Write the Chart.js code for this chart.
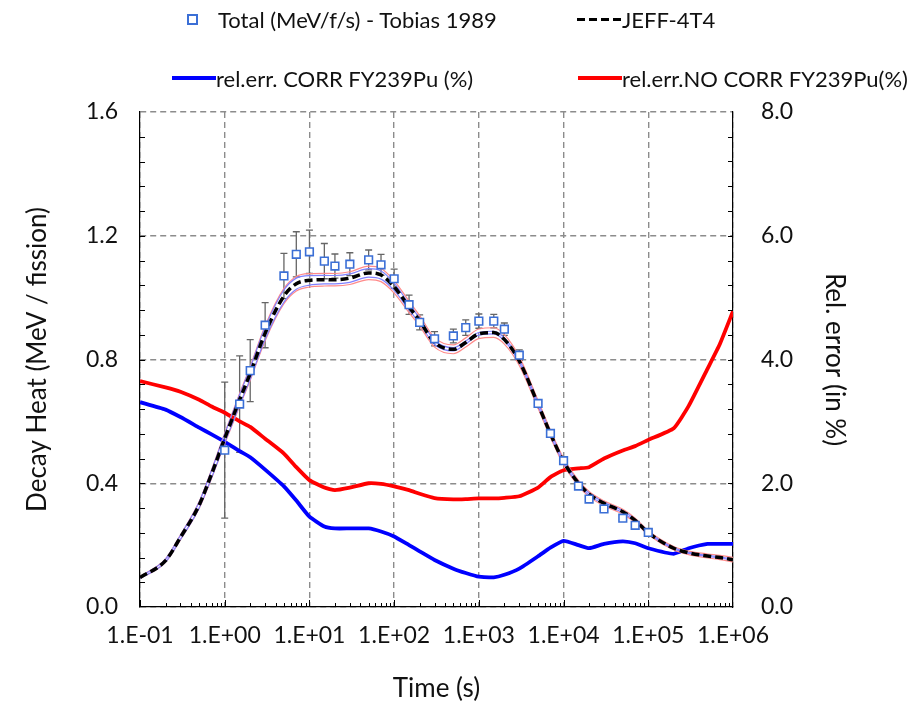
<!DOCTYPE html>
<html>
<head>
<meta charset="utf-8">
<script src="https://cdn.jsdelivr.net/npm/chart.js@4.4.1/dist/chart.umd.min.js"></script>
<style>
  body { margin: 0; background: #fff; font-family: Lato, "Open Sans", sans-serif; }
  #wrap { position: relative; width: 920px; height: 701px; }
  #decay { position: absolute; left: 0; top: 0; }
  .leg { position: absolute; height: 28px; display: flex; align-items: center; font-size: 22px; color: #111; white-space: nowrap; }
  .sq { width: 7px; height: 7px; border: 2px solid #3b6fd6; background: #fff; margin-right: 20px; }
  .dsh { width: 44px; height: 3px; margin-right: 1px; background: repeating-linear-gradient(90deg, #000 0 8px, transparent 8px 12px); }
  .ln { width: 44px; height: 4px; }
</style>
</head>
<body>
<div id="wrap">
  <canvas id="decay" width="920" height="701"></canvas>
  <div class="leg" style="left:187px;top:5px"><span class="sq"></span>Total (MeV/f/s) - Tobias 1989</div>
  <div class="leg" style="left:577px;top:5px"><span class="dsh"></span>JEFF-4T4</div>
  <div class="leg" style="left:172px;top:64px"><span class="ln" style="background:#0000ff"></span>rel.err. CORR FY239Pu (%)</div>
  <div class="leg" style="left:578px;top:64px"><span class="ln" style="background:#ff0000"></span>rel.err.NO CORR FY239Pu(%)</div>
</div>
<script>
// Tobias 1989 measured total decay heat (MeV/fission) and its uncertainty
const tobiasTime = [1, 1.5, 2, 3, 5, 7, 10, 15, 20, 30, 50, 70, 100, 150, 200, 300, 500, 700,
  1000, 1500, 2000, 3000, 5000, 7000, 10000, 15000, 20000, 30000, 50000, 70000, 100000];
const tobiasHeat = [0.507, 0.656, 0.764, 0.911, 1.070, 1.140, 1.148, 1.118, 1.102, 1.108, 1.122, 1.106,
  1.061, 0.977, 0.920, 0.867, 0.876, 0.903, 0.924, 0.924, 0.898, 0.814, 0.658, 0.561,
  0.473, 0.391, 0.349, 0.317, 0.287, 0.264, 0.241];
const tobiasErr = [0.220, 0.156, 0.100, 0.073, 0.073, 0.073, 0.070, 0.057, 0.039, 0.037, 0.032, 0.034,
  0.031, 0.031, 0.024, 0.023, 0.022, 0.025, 0.023, 0.022, 0.020, 0.017, 0.008, 0.006,
  0.005, 0.004, 0.004, 0.003, 0.003, 0.003, 0.003];

// JEFF-4T4 calculation and relative errors (%) on a common time grid
const calcTime = [0.1, 0.2, 0.3, 0.5, 0.7, 1, 1.5, 2, 3, 5, 7, 10, 15, 20, 30, 50, 70,
  100, 150, 200, 300, 500, 700, 1000, 1500, 2000, 3000, 5000, 7000,
  10000, 15000, 20000, 30000, 50000, 70000, 100000, 200000, 300000, 500000, 700000, 1000000];
const jeffHeat = [0.095, 0.150, 0.225, 0.330, 0.430, 0.545, 0.670, 0.755, 0.885, 1.005, 1.045,
  1.056, 1.058, 1.058, 1.063, 1.080, 1.073, 1.035, 0.970, 0.925, 0.855, 0.833, 0.855,
  0.883, 0.887, 0.865, 0.795, 0.655, 0.560, 0.470, 0.400, 0.365, 0.335, 0.308, 0.280,
  0.240, 0.190, 0.175, 0.165, 0.160, 0.153];
const errCorr = [3.31, 3.19, 3.07, 2.90, 2.79, 2.67, 2.52, 2.42, 2.22, 1.95, 1.72,
  1.46, 1.30, 1.27, 1.27, 1.27, 1.22, 1.14, 1.00, 0.90, 0.76, 0.62, 0.55,
  0.49, 0.48, 0.52, 0.62, 0.82, 0.96, 1.07, 1.00, 0.95, 1.02, 1.06, 1.03,
  0.95, 0.86, 0.95, 1.02, 1.02, 1.02];
const errNoCorr = [3.65, 3.55, 3.48, 3.35, 3.24, 3.14, 3.00, 2.91, 2.72, 2.48, 2.26,
  2.05, 1.93, 1.89, 1.93, 2.00, 1.99, 1.95, 1.89, 1.83, 1.76, 1.74, 1.745,
  1.755, 1.755, 1.765, 1.79, 1.93, 2.10, 2.21, 2.24, 2.26, 2.40, 2.53, 2.60,
  2.70, 2.89, 3.25, 3.85, 4.25, 4.78];

const decades = [0.1, 1, 10, 100, 1e3, 1e4, 1e5, 1e6];

const pts = (xs, ys) => xs.map((x, i) => ({ x: x, y: ys[i] }));
// uncertainty band around the calculation from the relative error
const band = (err, sign) => calcTime.map((x, i) => ({ x: x, y: jeffHeat[i] * (1 + sign * err[i] / 100) }));

function expLabel(v) {
  const e = Math.round(Math.log10(v));
  return '1.E' + (e < 0 ? '-' : '+') + String(Math.abs(e)).padStart(2, '0');
}

const tickFont = { family: 'Lato', size: 23 };
const titleFont = { family: 'Lato', size: 26 };

// vertical error bars on the measured points
const errorBars = {
  id: 'errorBars',
  beforeDatasetsDraw(chart) {
    const { ctx, scales: { x, y } } = chart;
    ctx.save();
    ctx.strokeStyle = '#666';
    ctx.lineWidth = 1.3;
    tobiasTime.forEach((t, i) => {
      const px = x.getPixelForValue(t);
      const top = y.getPixelForValue(tobiasHeat[i] + tobiasErr[i]);
      const bot = y.getPixelForValue(tobiasHeat[i] - tobiasErr[i]);
      ctx.beginPath();
      ctx.moveTo(px, top); ctx.lineTo(px, bot);
      ctx.moveTo(px - 3.5, top); ctx.lineTo(px + 3.5, top);
      ctx.moveTo(px - 3.5, bot); ctx.lineTo(px + 3.5, bot);
      ctx.stroke();
    });
    ctx.restore();
  }
};

// small inward tick marks on all three axes
const innerTicks = {
  id: 'innerTicks',
  afterDraw(chart) {
    const { ctx, chartArea: a, scales: { x, y, y2 } } = chart;
    ctx.save();
    ctx.strokeStyle = '#000';
    ctx.lineWidth = 1;
    ctx.beginPath();
    for (let d = 0.1; d < 1e6; d *= 10) {
      for (let m = 1; m <= 9; m++) {
        const px = Math.round(x.getPixelForValue(d * m)) + 0.5;
        const len = m === 1 ? 7 : 4;
        ctx.moveTo(px, a.bottom); ctx.lineTo(px, a.bottom - len);
      }
    }
    for (let v = 0.08; v < 1.6; v += 0.08) {
      const py = Math.round(y.getPixelForValue(v)) + 0.5;
      ctx.moveTo(a.left, py); ctx.lineTo(a.left + 5, py);
    }
    for (let v = 0.4; v < 8; v += 0.4) {
      const py = Math.round(y2.getPixelForValue(v)) + 0.5;
      ctx.moveTo(a.right, py); ctx.lineTo(a.right - 5, py);
    }
    ctx.stroke();
    ctx.restore();
  }
};

const ctx = document.getElementById('decay').getContext('2d');
new Chart(ctx, {
  type: 'line',
  data: {
    datasets: [
      {
        label: 'Total (MeV/f/s) - Tobias 1989',
        data: pts(tobiasTime, tobiasHeat),
        showLine: false,
        pointStyle: 'rect',
        pointRadius: 5.4,
        pointBorderWidth: 1.6,
        pointBorderColor: '#3b6fd6',
        pointBackgroundColor: '#fff',
        yAxisID: 'y'
      },
      {
        label: 'JEFF-4T4',
        data: pts(calcTime, jeffHeat),
        borderColor: '#000',
        borderWidth: 3.5,
        borderDash: [8, 4],
        cubicInterpolationMode: 'monotone',
        pointRadius: 0,
        yAxisID: 'y'
      },
      { data: band(errCorr, 1), borderColor: '#8080ff', borderWidth: 1.2, cubicInterpolationMode: 'monotone', pointRadius: 0, yAxisID: 'y' },
      { data: band(errCorr, -1), borderColor: '#8080ff', borderWidth: 1.2, cubicInterpolationMode: 'monotone', pointRadius: 0, yAxisID: 'y' },
      { data: band(errNoCorr, 1), borderColor: '#ff8a8a', borderWidth: 1.2, cubicInterpolationMode: 'monotone', pointRadius: 0, yAxisID: 'y' },
      { data: band(errNoCorr, -1), borderColor: '#ff8a8a', borderWidth: 1.2, cubicInterpolationMode: 'monotone', pointRadius: 0, yAxisID: 'y' },
      {
        label: 'rel.err. CORR FY239Pu (%)',
        data: pts(calcTime, errCorr),
        borderColor: '#0000ff',
        borderWidth: 3.8,
        tension: 0.15,
        pointRadius: 0,
        yAxisID: 'y2'
      },
      {
        label: 'rel.err.NO CORR FY239Pu(%)',
        data: pts(calcTime, errNoCorr),
        borderColor: '#ff0000',
        borderWidth: 3.8,
        tension: 0.15,
        pointRadius: 0,
        yAxisID: 'y2'
      }
    ]
  },
  options: {
    responsive: false,
    animation: false,
    layout: { padding: { top: 112, left: 0, right: 0, bottom: 0 } },
    plugins: { legend: { display: false }, tooltip: { enabled: false } },
    scales: {
      x: {
        type: 'logarithmic',
        min: 0.1,
        max: 1e6,
        afterBuildTicks: s => { s.ticks = decades.map(v => ({ value: v })); },
        afterFit: s => { s.height = 94; },
        ticks: { callback: v => expLabel(v), font: tickFont, color: '#111', padding: 15, maxRotation: 0, autoSkip: false },
        grid: { color: '#8c8c8c', lineWidth: 1.4, drawTicks: false },
        border: { display: true, color: '#000', width: 1.2, dash: [6, 4] },
        title: { display: true, text: 'Time (s)', font: titleFont, color: '#111', padding: { top: 0, bottom: -3 } }
      },
      y: {
        position: 'left',
        min: 0,
        max: 1.6,
        afterFit: s => { s.width = 140; },
        ticks: { stepSize: 0.4, callback: v => v.toFixed(1), font: tickFont, color: '#111', padding: 22 },
        grid: { color: '#8c8c8c', lineWidth: 1.4, drawTicks: false },
        border: { display: true, color: '#000', width: 1.2, dash: [6, 4] },
        title: { display: true, text: 'Decay Heat (MeV / fission)', font: titleFont, color: '#111', padding: { top: 22, bottom: 0 } }
      },
      y2: {
        position: 'right',
        min: 0,
        max: 8,
        afterFit: s => { s.width = 187; },
        ticks: { stepSize: 2, callback: v => v.toFixed(1), font: tickFont, color: '#111', padding: 28 },
        grid: { display: false, drawTicks: false },
        border: { display: true, color: '#000', width: 1.2 },
        title: { display: true, text: 'Rel. error (in %)', font: titleFont, color: '#111', padding: { top: 70, bottom: 0 } }
      }
    }
  },
  plugins: [errorBars, innerTicks]
});
</script>
</body>
</html>
